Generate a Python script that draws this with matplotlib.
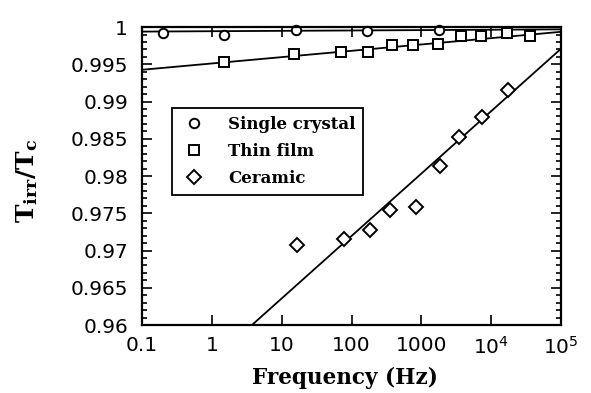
import matplotlib
matplotlib.use('Agg')
import matplotlib.pyplot as plt
from matplotlib.ticker import MultipleLocator, NullLocator, FixedLocator, FixedFormatter

# ---- data ----
sc_freq = [0.2, 1.5, 16, 165, 1800]
sc_ratio = [0.9992, 0.9989, 0.99955, 0.99947, 0.99955]

tf_freq = [1.5, 15, 71, 170, 375, 755, 1730, 3700, 7200, 17000, 36000]
tf_ratio = [0.9953, 0.99644, 0.99667, 0.99667, 0.9976, 0.9976, 0.99778,
            0.99876, 0.99876, 0.99916, 0.99884]

ce_freq = [16.5, 79, 185, 358, 826, 1820, 3460, 7480, 17600]
ce_ratio = [0.9707, 0.9715, 0.9727, 0.9754, 0.9759, 0.9813, 0.9852, 0.9879, 0.9915]

sc_fit_freq = [0.1, 1e5]
sc_fit_ratio = [0.9994, 0.9997]
tf_fit_freq = [0.1, 1e5]
tf_fit_ratio = [0.99427, 0.99937]
ce_fit_freq = [3.75, 1e5]
ce_fit_ratio = [0.96, 0.9971]

xticks = [0.1, 1, 10, 100, 1000, 1e4, 1e5]
xtick_labels = ['0.1', '1', '10', '100', '1000', r'$10^4$', r'$10^5$']
yticks = [0.96, 0.965, 0.97, 0.975, 0.98, 0.985, 0.99, 0.995, 1.0]
ytick_labels = ['0.96', '0.965', '0.97', '0.975', '0.98', '0.985', '0.99', '0.995', '1']

series_labels = ['Single crystal', 'Thin film', 'Ceramic']

# ---- figure ----
fig = plt.figure(figsize=(5.91, 3.93), dpi=100)
ax = fig.add_axes([0.2403, 0.173, 0.709, 0.758])

ax.set_xscale('log')
ax.set_xlim(0.1, 1e5)
ax.set_ylim(0.96, 1.0)

lw_fit = 1.3
ax.plot(sc_fit_freq, sc_fit_ratio, color='black', lw=lw_fit)
ax.plot(tf_fit_freq, tf_fit_ratio, color='black', lw=lw_fit)
ax.plot(ce_fit_freq, ce_fit_ratio, color='black', lw=lw_fit)

h1, = ax.plot(sc_freq, sc_ratio, 'o', ms=6.8, mfc='white', mec='black', mew=1.4,
              label=series_labels[0], clip_on=False)
h2, = ax.plot(tf_freq, tf_ratio, 's', ms=6.8, mfc='white', mec='black', mew=1.4,
              label=series_labels[1])
h3, = ax.plot(ce_freq, ce_ratio, 'D', ms=6.8, mfc='white', mec='black', mew=1.4,
              label=series_labels[2])

ax.xaxis.set_major_locator(FixedLocator(xticks))
ax.xaxis.set_major_formatter(FixedFormatter(xtick_labels))
ax.xaxis.set_minor_locator(NullLocator())
ax.yaxis.set_major_locator(FixedLocator(yticks))
ax.yaxis.set_major_formatter(FixedFormatter(ytick_labels))
ax.yaxis.set_minor_locator(MultipleLocator(0.001))

ax.tick_params(which='both', direction='in', top=True, right=True, width=1.2)
ax.tick_params(which='major', length=7)
ax.tick_params(which='minor', length=3.5)
ax.tick_params(axis='y', pad=10, labelsize=14.5)
ax.tick_params(axis='x', pad=8, labelsize=14.5)
for lab in ax.get_xticklabels() + ax.get_yticklabels():
    lab.set_fontfamily('DejaVu Sans')

for sp in ax.spines.values():
    sp.set_linewidth(1.6)

ax.set_xlabel('Frequency (Hz)', fontfamily='DejaVu Serif', fontweight='bold', fontsize=15.5)
ax.xaxis.set_label_coords(0.484, -0.14)
ax.set_ylabel(r'$\mathbf{T_{irr}/T_c}$', fontsize=18, math_fontfamily='dejavuserif')
ax.yaxis.set_label_coords(-0.243, 0.483)

leg = ax.legend(handles=[h1, h2, h3], loc='upper left', bbox_to_anchor=(0.0716, 0.728),
                borderaxespad=0, frameon=True, fancybox=False, framealpha=1,
                edgecolor='black', handlelength=1.7, handletextpad=1.2,
                borderpad=0.45, labelspacing=0.62,
                prop={'family': 'DejaVu Serif', 'weight': 'bold', 'size': 12})
leg.get_frame().set_linewidth(1.3)

fig.savefig('out.png', dpi=100)
